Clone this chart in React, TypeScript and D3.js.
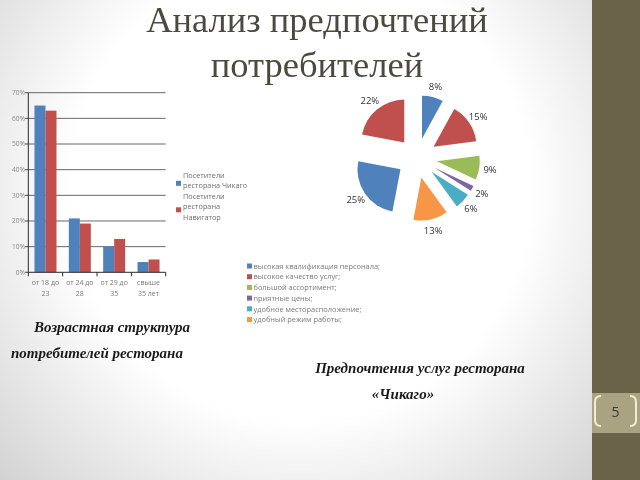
import React from "react";
import * as d3 from "d3";

const ageCategories = ["от 18 до|23", "от 24 до|28", "от 29 до|35", "свыше|35 лет"];
const seriesNames = ["Посетители|ресторана Чикаго", "Посетители|ресторана|Навигатор"];
const chicagoValues = [0.65, 0.21, 0.10, 0.04];
const navigatorValues = [0.63, 0.19, 0.13, 0.05];
const yTicks = [0, 0.1, 0.2, 0.3, 0.4, 0.5, 0.6, 0.7];

const pieValues = [8, 15, 9, 2, 6, 13, 25, 22];
const pieLegend = [
  "высокая квалификация персонала;",
  "высокое качество услуг;",
  "большой ассортимент;",
  "приятные цены;",
  "удобное месторасположение;",
  "удобный режим работы;",
];

const officeColors = ["#4F81BD", "#C0504D", "#9BBB59", "#8064A2", "#4BACC6", "#F79646"];

export default function App() {
  // bar chart geometry
  const x0 = d3.scaleBand<string>().domain(ageCategories).range([28.3, 165.7]).padding(0);
  const x1 = d3
    .scaleBand<number>()
    .domain([0, 1])
    .range([0, x0.bandwidth()])
    .paddingInner(0)
    .paddingOuter(0.56);
  const y = d3.scaleLinear().domain([0, 0.7]).range([272.3, 92.7]);
  const barSeries = [chicagoValues, navigatorValues];

  // pie geometry
  const cx = 417;
  const cy = 158;
  const r = 43;
  const explode = 20;
  const pie = d3.pie<number>().sort(null).value((d) => d)(pieValues);
  const arc = d3.arc<d3.PieArcDatum<number>>().innerRadius(0).outerRadius(r);
  const labelArc = d3.arc<d3.PieArcDatum<number>>().innerRadius(74).outerRadius(74);

  const sans = "'Open Sans', 'Liberation Sans', sans-serif";
  const serif = "'Liberation Serif', 'Times New Roman', serif";

  return (
    <svg
      width={640}
      height={480}
      viewBox="0 0 640 480"
      style={{ position: "fixed", left: 0, top: 0 }}
    >
      <defs>
        <radialGradient id="bg" cx="300" cy="190" r="420" gradientUnits="userSpaceOnUse">
          <stop offset="0" stopColor="#ffffff" />
          <stop offset="0.55" stopColor="#ffffff" />
          <stop offset="1" stopColor="#d2d2d2" />
        </radialGradient>
      </defs>
      <rect x={0} y={0} width={640} height={480} fill="url(#bg)" />

      {/* right panel */}
      <rect x={592} y={0} width={48} height={480} fill="#6A634A" />
      <rect x={592} y={393} width={48} height={40} fill="#A9A381" />
      <path d="M601,396 Q595,396 595,402 L595,420 Q595,426 601,426" fill="none" stroke="#F1EDD3" strokeWidth={2} />
      <path d="M630,396 Q636,396 636,402 L636,420 Q636,426 630,426" fill="none" stroke="#F1EDD3" strokeWidth={2} />
      <text x={615.5} y={417} textAnchor="middle" fontFamily={sans} fontSize={14} fill="#3b3a2c">
        5
      </text>

      {/* title */}
      <text x={317} y={32} textAnchor="middle" fontFamily={serif} fontSize={36.5} fill="#4B4A3F">
        Анализ предпочтений
      </text>
      <text x={317} y={77} textAnchor="middle" fontFamily={serif} fontSize={36.5} fill="#4B4A3F">
        потребителей
      </text>

      {/* bar chart gridlines */}
      {yTicks.map((t) => (
        <g key={t}>
          {t > 0 && (
            <line x1={28.3} x2={165.7} y1={y(t)} y2={y(t)} stroke="#3a3a3a" strokeWidth={0.9} opacity={0.85} />
          )}
          <line x1={25} x2={28.3} y1={y(t)} y2={y(t)} stroke="#3a3a3a" strokeWidth={0.9} />
          <text x={25} y={y(t) + 2.3} textAnchor="end" fontFamily={sans} fontSize={6.6} fill="#8a8a8a">
            {`${Math.round(t * 100)}%`}
          </text>
        </g>
      ))}

      {/* bars */}
      {barSeries.map((vals, si) =>
        vals.map((v, i) => (
          <rect
            key={`${si}-${i}`}
            x={(x0(ageCategories[i]) ?? 0) + (x1(si) ?? 0)}
            y={y(v)}
            width={x1.bandwidth()}
            height={y(0) - y(v)}
            fill={officeColors[si]}
          />
        ))
      )}

      {/* axes */}
      <line x1={28.3} x2={28.3} y1={y(0.7)} y2={y(0)} stroke="#2b2b2b" strokeWidth={1} />
      <line x1={28.3} x2={165.7} y1={y(0)} y2={y(0)} stroke="#2b2b2b" strokeWidth={1} />
      {[...ageCategories.map((c) => x0(c) ?? 0), 165.7].map((xv, i) => (
        <line key={i} x1={xv} x2={xv} y1={y(0)} y2={y(0) + 4} stroke="#2b2b2b" strokeWidth={1} />
      ))}
      {ageCategories.map((c) => {
        const lines = c.split("|");
        const xc = (x0(c) ?? 0) + x0.bandwidth() / 2;
        return (
          <text key={c} textAnchor="middle" fontFamily={sans} fontSize={7} fill="#7a7a7a">
            {lines.map((l, j) => (
              <tspan key={j} x={xc} y={285 + j * 10.5}>
                {l}
              </tspan>
            ))}
          </text>
        );
      })}

      {/* bar legend */}
      {(() => {
        let row = 0;
        return seriesNames.map((name, si) => {
          const lines = name.split("|");
          const startRow = row;
          row += lines.length;
          const mid = si === 0 ? startRow + 0.5 : startRow + 1;
          return (
            <g key={si}>
              <rect x={176} y={176 + mid * 10.6 - 0.5} width={5} height={5} fill={officeColors[si]} />
              <text fontFamily={sans} fontSize={7.3} fill="#6e6e6e">
                {lines.map((l, j) => (
                  <tspan key={j} x={183} y={177.5 + (startRow + j) * 10.6}>
                    {l}
                  </tspan>
                ))}
              </text>
            </g>
          );
        });
      })()}

      {/* pie */}
      {pie.map((d, i) => {
        const mid = (d.startAngle + d.endAngle) / 2;
        const dx = Math.sin(mid) * explode;
        const dy = -Math.cos(mid) * explode;
        const [lx, ly] = labelArc.centroid(d);
        return (
          <g key={i}>
            <path
              d={arc(d) ?? ""}
              transform={`translate(${cx + dx},${cy + dy})`}
              fill={officeColors[i % officeColors.length]}
            />
            <text
              x={cx + lx}
              y={cy + ly + 3.3}
              textAnchor="middle"
              fontFamily={sans}
              fontSize={9.5}
              fill="#333333"
            >
              {`${pieValues[i]}%`}
            </text>
          </g>
        );
      })}

      {/* pie legend */}
      {pieLegend.map((l, i) => (
        <g key={l}>
          <rect x={247} y={263.5 + i * 10.7} width={5} height={5} fill={officeColors[i]} />
          <text x={253.5} y={268.7 + i * 10.7} fontFamily={sans} fontSize={7.4} fill="#7a7a7a">
            {l}
          </text>
        </g>
      ))}

      {/* captions */}
      <text x={112} y={332} textAnchor="middle" fontFamily={serif} fontStyle="italic" fontWeight="bold" fontSize={15} fill="#1a1a1a">
        Возрастная структура
      </text>
      <text x={97} y={358} textAnchor="middle" fontFamily={serif} fontStyle="italic" fontWeight="bold" fontSize={15} fill="#1a1a1a">
        потребителей ресторана
      </text>
      <text x={420} y={373} textAnchor="middle" fontFamily={serif} fontStyle="italic" fontWeight="bold" fontSize={15} fill="#1a1a1a">
        Предпочтения услуг ресторана
      </text>
      <text x={403} y={399} textAnchor="middle" fontFamily={serif} fontStyle="italic" fontWeight="bold" fontSize={15} fill="#1a1a1a">
        «Чикаго»
      </text>
    </svg>
  );
}
